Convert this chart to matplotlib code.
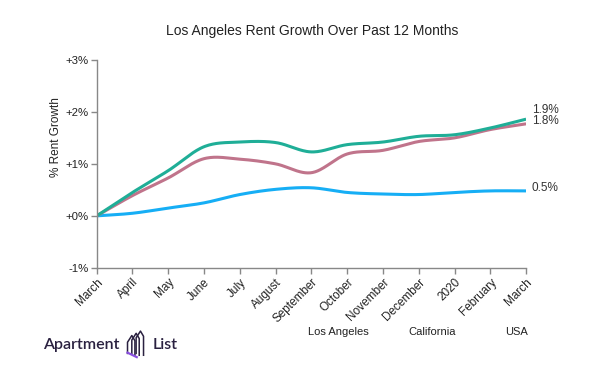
import numpy as np
import matplotlib
matplotlib.use("Agg")
import matplotlib.pyplot as plt

months = ["March", "April", "May", "June", "July", "August", "September",
          "October", "November", "December", "2020", "February", "March"]
california = [0.0, 0.45, 0.87, 1.33, 1.42, 1.41, 1.23, 1.37, 1.42, 1.53, 1.56, 1.69, 1.86]
los_angeles = [0.0, 0.39, 0.73, 1.10, 1.09, 1.00, 0.83, 1.19, 1.26, 1.43, 1.50, 1.66, 1.77]
usa = [0.0, 0.05, 0.15, 0.25, 0.41, 0.51, 0.54, 0.45, 0.42, 0.41, 0.45, 0.48, 0.48]
end_labels = ["1.9%", "1.8%", "0.5%"]
legend_names = ["Los Angeles", "California", "USA"]
yticks = [-1, 0, 1, 2, 3]


def smooth(x, y, n=30, tension=0.5):
    # catmull-rom spline through the points, only for drawing
    x = np.asarray(x, float)
    y = np.asarray(y, float)
    px = np.concatenate([[2 * x[0] - x[1]], x, [2 * x[-1] - x[-2]]])
    py = np.concatenate([[2 * y[0] - y[1]], y, [2 * y[-1] - y[-2]]])
    xs, ys = [], []
    t = np.linspace(0, 1, n)
    for i in range(1, len(px) - 2):
        for arr, out in ((px, xs), (py, ys)):
            p0, p1, p2, p3 = arr[i - 1], arr[i], arr[i + 1], arr[i + 2]
            m1 = tension * (p2 - p0)
            m2 = tension * (p3 - p1)
            out.extend((2 * t**3 - 3 * t**2 + 1) * p1 + (t**3 - 2 * t**2 + t) * m1
                       + (-2 * t**3 + 3 * t**2) * p2 + (t**3 - t**2) * m2)
    return np.array(xs), np.array(ys)


plt.rcParams['font.family'] = ['Liberation Sans', 'DejaVu Sans']

fig = plt.figure(figsize=(6.16, 3.72), dpi=100)
ax = fig.add_axes([0.157, 0.280, 0.697, 0.559])

x = np.arange(len(months))
colors = {"California": "#1fae97", "Los Angeles": "#c0748b", "USA": "#16aef5"}
for name, vals in [("USA", usa), ("Los Angeles", los_angeles), ("California", california)]:
    xs, ys = smooth(x, vals)
    ax.plot(xs, ys, color=colors[name], lw=2.2, solid_capstyle='butt')

ax.set_xlim(0, len(months) - 1)
ax.set_ylim(-1, 3)
ax.set_yticks(yticks)
ax.set_yticklabels([("%+d%%" % v) if v != 0 else "+0%" for v in yticks], fontsize=8.2)
ax.set_xticks(x)
ax.set_xticklabels(months, fontsize=8.5, rotation=45, ha='right', rotation_mode='anchor')
for sp in ['top', 'right']:
    ax.spines[sp].set_visible(False)
for sp in ['left', 'bottom']:
    ax.spines[sp].set_color('#888888')
    ax.spines[sp].set_linewidth(1.0)
ax.tick_params(axis='both', length=4, color='#888888', width=1, labelcolor='#222222', pad=2)
ax.set_ylabel("% Rent Growth", fontsize=8.5, color='#222222')
ax.yaxis.set_label_coords(-0.08, 0.63)

ends = [california[-1], los_angeles[-1], usa[-1]]
offs = [0.12, 0.0, 0.0]
for lab, v, o in zip(end_labels, ends, offs):
    ax.annotate(lab, (x[-1], v + o), xytext=(4, 2), textcoords='offset points',
                fontsize=8.5, color='#333333', va='center', annotation_clip=False)

fig.text(0.506, 0.918, "Los Angeles Rent Growth Over Past 12 Months",
         ha='center', va='center', fontsize=10, color='#222222')

for name, fx in zip(legend_names, [0.549, 0.701, 0.838]):
    fig.text(fx, 0.107, name, ha='center', va='center', fontsize=8, color='#222222')

# logo
fig.text(0.070, 0.072, "Apartment", fontsize=11.5, color='#2a2140', va='center',
         family=['Lato', 'DejaVu Sans'], fontweight='semibold')
fig.text(0.247, 0.072, "List", fontsize=11.5, color='#2a2140', va='center',
         family=['Lato', 'DejaVu Sans'], fontweight='semibold')
ix = [0.214, 0.221, 0.228]
for k, xx in enumerate(ix):
    fig.add_artist(plt.Line2D([xx - 0.007, xx - 0.007, xx, xx + 0.005, xx + 0.005],
                              [0.050, 0.080 + 0.006 * k, 0.098 + 0.006 * k, 0.084 + 0.006 * k, 0.045],
                              transform=fig.transFigure, color='#2a2140', lw=1.1))
fig.add_artist(plt.Line2D([0.207, 0.222], [0.052, 0.040], transform=fig.transFigure,
                          color='#8a4fe0', lw=1.6))

fig.savefig("out.png", dpi=100)
